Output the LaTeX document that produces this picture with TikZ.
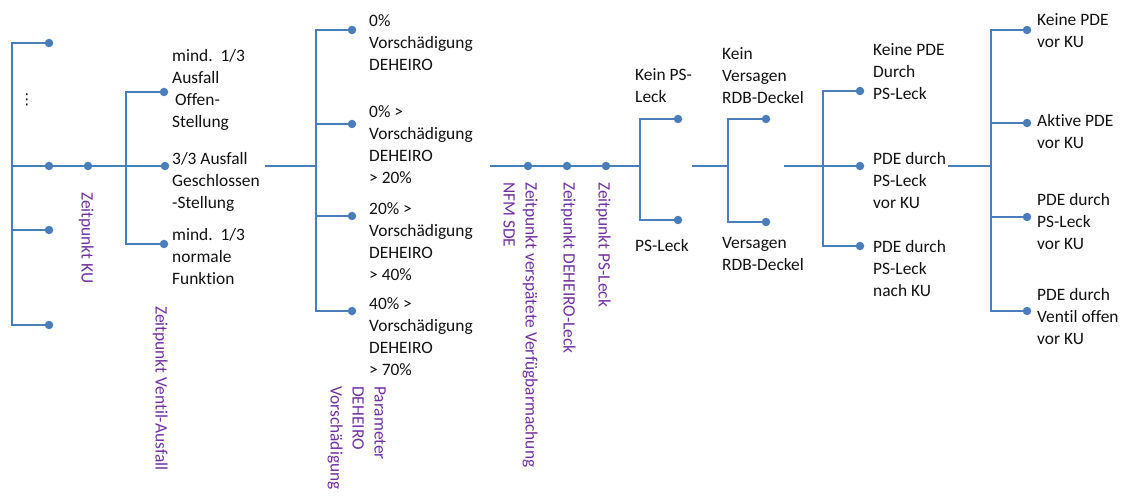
\documentclass[tikz,border=0pt]{standalone}
\usepackage{fontspec}
\setmainfont{Carlito}[Ligatures=NoCommon]
\newfontfamily\symbfont{DejaVu Sans}
\usetikzlibrary{positioning,calc}
\definecolor{Branch}{HTML}{4A7EBB}
\definecolor{Mark}{HTML}{7030A0}
\definecolor{Label}{HTML}{111111}

\begin{document}
\begin{tikzpicture}[x=1pt,y=-1pt,
  every node/.style={font=\fontsize{17.4}{22}\selectfont},
  knot/.style={circle,fill=Branch,inner sep=0pt,minimum size=8.5pt},
  opt/.style={anchor=north west,inner sep=0pt,align=left,text=Label},
  tick/.style={anchor=north west,inner sep=0pt,align=left,rotate=-90,text=Mark},
  link/.style={draw=Branch,line width=1.2pt}]
\useasboundingbox (0,0) rectangle (1128,497);
% Zeitpunkt KU
\coordinate (s0) at (12,166);
\node[knot] (u1) at (49,43) {};\node[knot] (u2) at (49,166) {};
\node[knot] (u3) at (49,230) {};\node[knot] (u4) at (49,325) {};
\draw[link] (u1) -| (s0) |- (u4);
\draw[link] (u3 -| s0) -- (u3);
\node[font=\symbfont\fontsize{15}{15}\selectfont,text=Label] (more) at (27,100) {⋮};
\node[knot] (ku) at (88,166) {};
% Ventil-Ausfall
\node[knot] (f1) at (164,92) {};\node[knot] (f2) at (165,166) {};
\node[knot] (f3) at (164,244) {};
\draw[link] (s0) -- (u2) -- (ku) -- (f2);
\draw[link] (f1) -- ++(-38,0) |- (f3);
\node[opt] (o1) at (172,49) {mind.\ \ 1/3\\Ausfall\\\hspace{3pt}Offen-\\Stellung};
\node[opt] (o2) at (172,152) {3/3 Ausfall\\Geschlossen\\-Stellung};
\node[opt] (o3) at (172,228) {mind.\ \ 1/3\\normale\\Funktion};
% Vorschaedigung
\coordinate (g0) at (265,166);\coordinate (gv) at (316,166);
\node[knot] (d1) at (352,30) {};\node[knot] (d2) at (352,124) {};
\node[knot] (d3) at (352,216) {};\node[knot] (d4) at (352,311) {};
\draw[link] (g0) -- (gv);
\draw[link] (d1) -| (gv) |- (d4);
\draw[link] (d2 -| gv) -- (d2);
\draw[link] (d3 -| gv) -- (d3);
\node[opt] (v1) at (369,14) {0\%\\Vorschädigung\\DEHEIRO};
\node[opt] (v2) at (369,105) {0\% >\\Vorschädigung\\DEHEIRO\\> 20\%};
\node[opt] (v3) at (369,202) {20\% >\\Vorschädigung\\DEHEIRO\\> 40\%};
\node[opt] (v4) at (369,297) {40\% >\\Vorschädigung\\DEHEIRO\\> 70\%};
% Zeitpunkte
\coordinate (h0) at (490,166);
\node[knot] (n1) at (528,166) {};\node[knot] (n2) at (567,166) {};
\node[knot] (n3) at (606,166) {};
\draw[link] (h0) -- (n1) -- (n2) -- (n3);
% PS-Leck
\coordinate (pv) at (640,166);
\node[knot] (p1) at (678,119) {};\node[knot] (p2) at (678,220) {};
\draw[link] (n3) -- (pv);
\draw[link] (p1) -| (pv) |- (p2);
\node[opt] (ps1) at (635,68) {Kein PS-\\Leck};
\node[opt] (ps2) at (635,239) {PS-Leck};
% RDB-Deckel
\coordinate (r0) at (692,166);\coordinate (rv) at (728,166);
\node[knot] (q1) at (766,119) {};\node[knot] (q2) at (766,222) {};
\draw[link] (r0) -- (rv);
\draw[link] (q1) -| (rv) |- (q2);
\node[opt] (rd1) at (722,47) {Kein\\Versagen\\RDB-Deckel};
\node[opt] (rd2) at (722,237) {Versagen\\RDB-Deckel};
% PDE durch PS-Leck
\coordinate (t0) at (784,166);\coordinate (tv) at (823,166);
\node[knot] (k1) at (860,91) {};\node[knot] (k2) at (860,166) {};
\node[knot] (k3) at (860,246) {};
\draw[link] (t0) -- (k2);
\draw[link] (k1) -| (tv) |- (k3);
\node[opt] (pd1) at (873,43) {Keine PDE\\Durch\\PS-Leck};
\node[opt] (pd2) at (873,152) {PDE durch\\PS-Leck\\vor KU};
\node[opt] (pd3) at (873,240) {PDE durch\\PS-Leck\\nach KU};
% PDE vor KU
\coordinate (w0) at (948,166);\coordinate (wv) at (991,166);
\node[knot] (e1) at (1027,30) {};\node[knot] (e2) at (1027,123) {};
\node[knot] (e3) at (1027,217) {};\node[knot] (e4) at (1027,311) {};
\draw[link] (w0) -- (wv);
\draw[link] (e1) -| (wv) |- (e4);
\draw[link] (e2 -| wv) -- (e2);
\draw[link] (e3 -| wv) -- (e3);
\node[opt] (ke1) at (1037,13) {Keine PDE\\vor KU};
\node[opt] (ke2) at (1037,114) {Aktive PDE\\vor KU};
\node[opt] (ke3) at (1037,193) {PDE durch\\PS-Leck\\vor KU};
\node[opt] (ke4) at (1037,288) {PDE durch\\Ventil offen\\vor KU};
% Zeitpunkt-Beschriftungen
\node[tick] (lku) at (94,192) {Zeitpunkt KU};
\node[tick] (lva) at (168,306) {Zeitpunkt Ventil-Ausfall};
\node[tick] (lpa) at (386,386) {Parameter\\DEHEIRO\\Vorschädigung};
\node[tick] (lnf) at (538,182) {Zeitpunkt verspätete Verfügbarmachung\\NFM SDE};
\node[tick] (ldl) at (576,182) {Zeitpunkt DEHEIRO-Leck};
\node[tick] (lpl) at (611,182) {Zeitpunkt PS-Leck};
\end{tikzpicture}
\end{document}
